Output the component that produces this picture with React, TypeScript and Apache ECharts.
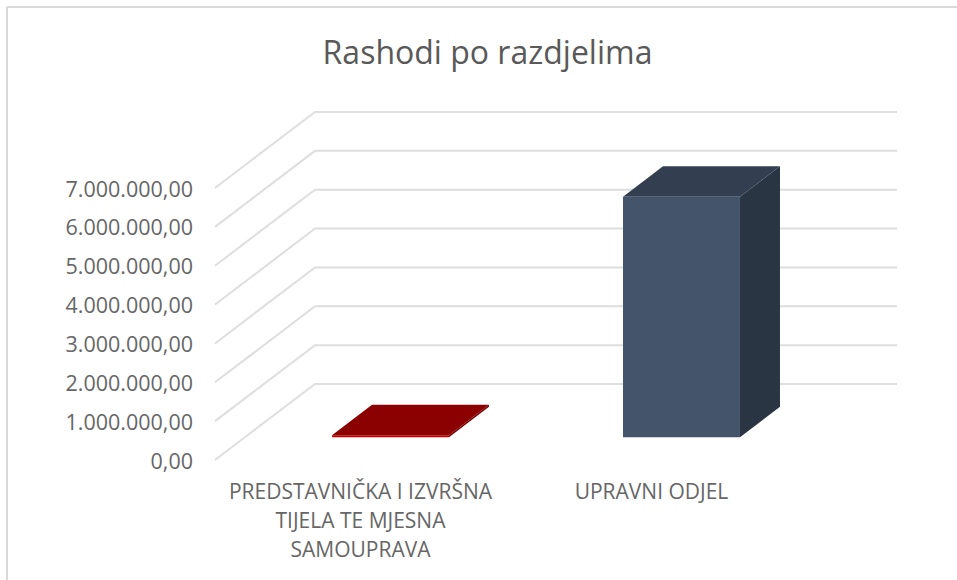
import React, { useEffect, useRef } from "react";
import * as echarts from "echarts";

const titleText = "Rashodi po razdjelima";
const categories = ["PREDSTAVNIČKA I IZVRŠNA\nTIJELA TE MJESNA\nSAMOUPRAVA", "UPRAVNI ODJEL"];
const barValues = [50000, 6190000];
const yTicks = [0, 1000000, 2000000, 3000000, 4000000, 5000000, 6000000, 7000000];
const yTickLabels = ["0,00", "1.000.000,00", "2.000.000,00", "3.000.000,00", "4.000.000,00", "5.000.000,00", "6.000.000,00", "7.000.000,00"];
const frontColors = ["#C00000", "#44546A"];
const topColors = ["#8B0000", "#333F50"];
const sideColors = ["#7A0000", "#293543"];

const FONT = '"Open Sans", sans-serif';
const WALL_DX = 100;
const WALL_DY = -76;
const BAR_NEAR = 0.3;
const BAR_FAR = 0.7;
const BAR_WIDTH_RATIO = 0.402;

function renderGridLine(params: any, api: any) {
  const cs = params.coordSys;
  const y = api.coord([0, api.value(1)])[1];
  return {
    type: "polyline",
    shape: {
      points: [
        [cs.x, y],
        [cs.x + WALL_DX, y + WALL_DY],
        [cs.x + cs.width + WALL_DX, y + WALL_DY],
      ],
    },
    style: { stroke: "#DEDEDE", lineWidth: 2, fill: "none" },
  };
}

function renderBar(params: any, api: any) {
  const i = api.value(0);
  const top = api.coord([i, api.value(1)]);
  const base = api.coord([i, 0]);
  const w = api.size([1, 0])[0] * BAR_WIDTH_RATIO;
  const nx = WALL_DX * BAR_NEAR;
  const ny = WALL_DY * BAR_NEAR;
  const fx = WALL_DX * (BAR_FAR - BAR_NEAR);
  const fy = WALL_DY * (BAR_FAR - BAR_NEAR);
  const l = top[0] + nx - w / 2;
  const r = l + w;
  const yt = top[1] + ny;
  const yb = base[1] + ny;
  return {
    type: "group",
    children: [
      {
        type: "polygon",
        shape: { points: [[r, yt], [r + fx, yt + fy], [r + fx, yb + fy], [r, yb]] },
        style: { fill: sideColors[i] },
      },
      {
        type: "polygon",
        shape: { points: [[l, yt], [l + fx, yt + fy], [r + fx, yt + fy], [r, yt]] },
        style: { fill: topColors[i] },
      },
      {
        type: "polygon",
        shape: { points: [[l, yt], [r, yt], [r, yb], [l, yb]] },
        style: { fill: frontColors[i] },
      },
    ],
  };
}

export default function App() {
  const ref = useRef<HTMLDivElement>(null);
  useEffect(() => {
    const chart = echarts.init(ref.current!, null, { renderer: "svg" });
    chart.setOption({
      animation: false,
      backgroundColor: "#FFFFFF",
      title: {
        text: titleText,
        left: 482.5,
        top: 30,
        textAlign: "center",
        textStyle: { fontFamily: FONT, fontSize: 32, fontWeight: "normal", color: "#595959" },
      },
      grid: { left: 215, right: 160, top: 188, bottom: 120 },
      xAxis: {
        type: "category",
        data: categories,
        axisLine: { show: false },
        axisTick: { show: false },
        splitLine: { show: false },
        axisLabel: {
          interval: 0,
          margin: 16,
          lineHeight: 29,
          fontFamily: FONT,
          fontSize: 21,
          color: "#666666",
        },
      },
      yAxis: {
        type: "value",
        min: 0,
        max: 7000000,
        interval: 1000000,
        axisLine: { show: false },
        axisTick: { show: false },
        splitLine: { show: false },
        axisLabel: {
          margin: 22,
          fontFamily: FONT,
          fontSize: 21.5,
          color: "#666666",
          formatter: (v: number) => yTickLabels[yTicks.indexOf(v)],
        },
      },
      graphic: [
        { type: "line", shape: { x1: 7, y1: 7, x2: 957, y2: 7 }, style: { stroke: "#D9D9D9", lineWidth: 2 } },
        { type: "line", shape: { x1: 7, y1: 7, x2: 7, y2: 580 }, style: { stroke: "#D9D9D9", lineWidth: 2 } },
      ],
      series: [
        {
          type: "custom",
          renderItem: renderGridLine,
          data: yTicks.map((v) => [0, v]),
          silent: true,
          clip: false,
          z: 1,
        },
        {
          type: "custom",
          renderItem: renderBar,
          data: barValues.map((v, i) => [i, v]),
          clip: false,
          z: 2,
        },
      ],
    });
    return () => chart.dispose();
  }, []);
  return <div ref={ref} style={{ position: "absolute", left: 0, top: 0, width: 957, height: 580 }} />;
}
